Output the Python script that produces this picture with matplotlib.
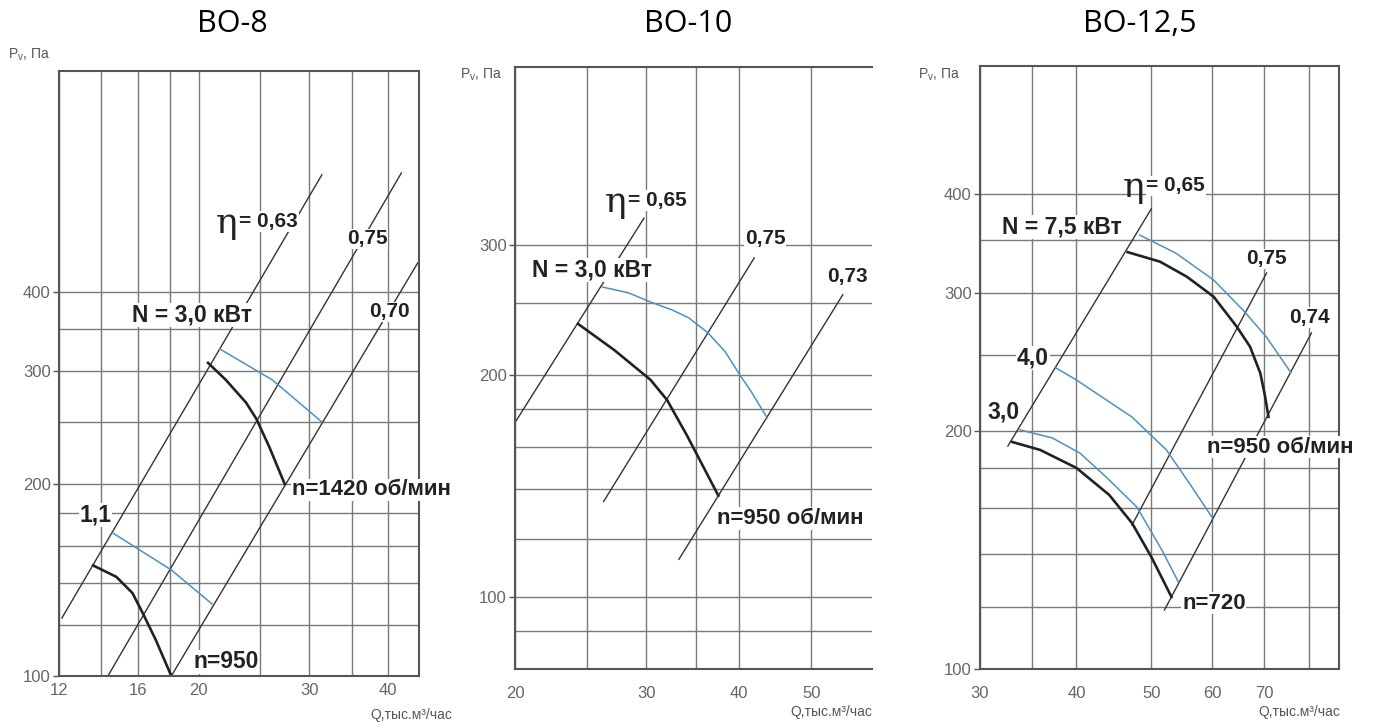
import numpy as np
import matplotlib
matplotlib.use('Agg')
import matplotlib.pyplot as plt
from matplotlib.ticker import FixedLocator, NullFormatter, FixedFormatter

plt.rcParams['font.family'] = ['Liberation Sans', 'DejaVu Sans']

# BO-8
bo8_eta063_q = [12.13, 31.4]
bo8_eta063_p = [123.3, 610]
bo8_eta075_q = [14.35, 42.0]
bo8_eta075_p = [100, 614]
bo8_eta070_q = [18.1, 44.6]
bo8_eta070_p = [100, 444]
bo8_n1420_black_q = [20.7, 22.1, 23.8, 24.7, 25.9, 27.4]
bo8_n1420_black_p = [309.5, 291, 268, 253, 228.6, 200]
bo8_n1420_blue_q = [21.6, 26.2, 31.4]
bo8_n1420_blue_p = [325.5, 291, 250]
bo8_n950_black_q = [13.6, 14.8, 15.7, 16.3, 17.1, 18.1]
bo8_n950_black_p = [149, 143, 134.9, 125.5, 113.9, 100]
bo8_n950_blue_q = [14.6, 18.1, 21.0]
bo8_n950_blue_p = [167.6, 146.6, 129.7]

# BO-10
bo10_eta065_q = [20, 29.8]
bo10_eta065_p = [172.4, 326]
bo10_eta075_q = [26.3, 41.9]
bo10_eta075_p = [134.8, 288]
bo10_eta073_q = [33.2, 55.1]
bo10_eta073_p = [112.6, 256.8]
bo10_black_q = [24.3, 27.2, 30.4, 32.0, 34.1, 37.5]
bo10_black_p = [234.5, 216, 197, 185, 165, 137.3]
bo10_blue_q = [26.2, 28.4, 30.4, 32.5, 34.2, 36.3, 38.3, 39.9, 41.6, 43.6]
bo10_blue_p = [263, 258.3, 251, 244.9, 239, 228.1, 215, 201.4, 189.2, 175]

# BO-12,5
bo12_eta065_q = [32.6, 50.0]
bo12_eta065_p = [191.7, 383]
bo12_eta075_q = [47.2, 70.5]
bo12_eta075_p = [152.2, 317.6]
bo12_eta074_q = [52.0, 80.6]
bo12_eta074_p = [118.8, 266.6]
bo12_n950_black_q = [46.6, 51.3, 55.6, 60.2, 64.5, 67.1, 69.2, 70.2, 70.9]
bo12_n950_black_p = [337.5, 328.3, 314.1, 296.4, 271.6, 256.2, 237.1, 221.4, 208.7]
bo12_n950_blue_q = [48.3, 53.8, 60.2, 65.7, 70.4, 75.8]
bo12_n950_blue_p = [354.8, 336.5, 311.2, 285.1, 263.8, 237.5]
bo12_n720_blue4_q = [37.6, 40.0, 47.2, 52.3, 56.0, 60.0]
bo12_n720_blue4_p = [240.8, 232.4, 208.6, 189.5, 172, 155.4]
bo12_n720_black_q = [33.0, 35.9, 40.0, 44.1, 47.2, 50.0, 53.1]
bo12_n720_black_p = [194, 189.5, 179.8, 166.2, 153.1, 138.7, 123.4]
bo12_n720_blue3_q = [33.8, 37.2, 40.4, 43.7, 47.9, 51.6, 54.2]
bo12_n720_blue3_p = [200.9, 196.3, 187.8, 175.1, 160.4, 141.5, 128.9]

W, H = 1376, 726
fig = plt.figure(figsize=(W / 100, H / 100), dpi=100)

BLUE = '#4f8fc0'
GRID = '#7a7a7a'
SPINE = '#555555'
TXT = '#222222'


def make_axes(px_left, px_right, px_top, px_bottom, xlim, ylim,
              xmaj, xmin, ymaj, ymin, xpad, right_spine=True):
    ax = fig.add_axes([px_left / W, 1 - px_bottom / H,
                       (px_right - px_left) / W, (px_bottom - px_top) / H])
    ax.set_xscale('log')
    ax.set_yscale('log')
    ax.set_xlim(*xlim)
    ax.set_ylim(*ylim)
    ax.xaxis.set_major_locator(FixedLocator(xmaj))
    ax.xaxis.set_major_formatter(FixedFormatter([str(v) for v in xmaj]))
    ax.xaxis.set_minor_locator(FixedLocator(xmin))
    ax.xaxis.set_minor_formatter(NullFormatter())
    ax.yaxis.set_major_locator(FixedLocator(ymaj))
    ax.yaxis.set_major_formatter(FixedFormatter([str(v) for v in ymaj]))
    ax.yaxis.set_minor_locator(FixedLocator(ymin))
    ax.yaxis.set_minor_formatter(NullFormatter())
    ax.grid(which='both', color=GRID, lw=1.0)
    ax.tick_params(axis='x', which='both', length=0, pad=xpad,
                   labelsize=12, labelcolor='#666666')
    ax.tick_params(axis='y', which='major', length=4, width=1, color=SPINE,
                   pad=2, labelsize=12, labelcolor='#666666')
    ax.tick_params(axis='y', which='minor', length=0)
    for s in ax.spines.values():
        s.set_color(SPINE)
        s.set_linewidth(1.5)
    if not right_spine:
        ax.spines['right'].set_visible(False)
    ax.set_axisbelow(True)
    return ax


def label(ax, q, p, s, size=16):
    ax.text(q, p, s, fontsize=size, fontweight='bold', color=TXT,
            ha='left', va='center', zorder=5,
            bbox=dict(facecolor='white', edgecolor='none', pad=0.5))


def eta_label(ax, q, p, s):
    ax.text(q, p, 'η', fontsize=26, family='DejaVu Serif', color=TXT,
            ha='left', va='center', zorder=5)
    ax.annotate(s, xy=(q, p), xytext=(17, 1), textcoords='offset points',
                fontsize=15, fontweight='bold', color=TXT, ha='left',
                va='center', zorder=5,
                bbox=dict(facecolor='white', edgecolor='none', pad=0.5))


def ylabel_fig(x, y):
    fig.text(x / W, 1 - y / H, r'P$_\mathregular{v}$, Па', fontsize=10,
             color='#555555', ha='left', va='center')


def xlabel_fig(x, y):
    fig.text(x / W, 1 - y / H, 'Q,тыс.м³/час', fontsize=10,
             color='#555555', ha='right', va='center')


# ---- BO-8 ----
ax1 = make_axes(59, 419, 71, 676, (12, 44.8), (100, 887),
                [12, 16, 20, 30, 40], [14, 18, 25, 35],
                [100, 200, 300, 400], [120, 140, 160, 180, 250, 350], 5)
for q, p in [(bo8_eta063_q, bo8_eta063_p), (bo8_eta075_q, bo8_eta075_p),
             (bo8_eta070_q, bo8_eta070_p)]:
    ax1.plot(q, p, color='#333333', lw=1.0)
ax1.plot(bo8_n1420_blue_q, bo8_n1420_blue_p, color=BLUE, lw=1.1)
ax1.plot(bo8_n950_blue_q, bo8_n950_blue_p, color=BLUE, lw=1.1)
ax1.plot(bo8_n1420_black_q, bo8_n1420_black_p, color='#222222', lw=1.9)
ax1.plot(bo8_n950_black_q, bo8_n950_black_p, color='#222222', lw=1.9)
eta_label(ax1, 21.3, 513, '= 0,63')
label(ax1, 34.4, 484, '0,75', 15)
label(ax1, 37.3, 372, '0,70', 15)
label(ax1, 15.7, 368, 'N = 3,0 кВт', 16.5)
label(ax1, 12.94, 178.8, '1,1', 16.5)
label(ax1, 28.1, 195.7, 'n=1420 об/мин', 16)
label(ax1, 19.6, 105.2, 'n=950', 16.5)
ylabel_fig(8, 55)
xlabel_fig(452, 715)

# ---- BO-10 ----
ax2 = make_axes(515, 872, 67, 669, (20, 60.3), (80, 522),
                [20, 30, 40, 50], [25, 35],
                [100, 200, 300], [90, 120, 140, 160, 180, 250], 12,
                right_spine=False)
for q, p in [(bo10_eta065_q, bo10_eta065_p), (bo10_eta075_q, bo10_eta075_p),
             (bo10_eta073_q, bo10_eta073_p)]:
    ax2.plot(q, p, color='#333333', lw=1.0)
ax2.plot(bo10_blue_q, bo10_blue_p, color=BLUE, lw=1.1)
ax2.plot(bo10_black_q, bo10_black_p, color='#222222', lw=1.9)
eta_label(ax2, 26.4, 343, '= 0,65')
label(ax2, 40.7, 305.6, '0,75', 15)
label(ax2, 52.5, 271.6, '0,73', 15)
label(ax2, 21.1, 277.4, 'N = 3,0 кВт', 16.5)
label(ax2, 37.3, 127.9, 'n=950 об/мин', 16)
ylabel_fig(460, 75)
xlabel_fig(872, 712)

# ---- BO-12,5 ----
ax3 = make_axes(980, 1339, 66, 669, (30, 87.5), (100, 581),
                [30, 40, 50, 60, 70], [35, 80],
                [100, 200, 300, 400], [120, 140, 160, 180, 250, 350], 12)
for q, p in [(bo12_eta065_q, bo12_eta065_p), (bo12_eta075_q, bo12_eta075_p),
             (bo12_eta074_q, bo12_eta074_p)]:
    ax3.plot(q, p, color='#333333', lw=1.0)
ax3.plot(bo12_n950_blue_q, bo12_n950_blue_p, color=BLUE, lw=1.1)
ax3.plot(bo12_n720_blue4_q, bo12_n720_blue4_p, color=BLUE, lw=1.1)
ax3.plot(bo12_n720_blue3_q, bo12_n720_blue3_p, color=BLUE, lw=1.1)
ax3.plot(bo12_n950_black_q, bo12_n950_black_p, color='#222222', lw=1.9)
ax3.plot(bo12_n720_black_q, bo12_n720_black_p, color='#222222', lw=1.9)
eta_label(ax3, 45.9, 408, '= 0,65')
label(ax3, 31.99, 363, 'N = 7,5 кВт', 16.5)
label(ax3, 66.4, 331, '0,75', 15)
label(ax3, 75.4, 279, '0,74', 15)
label(ax3, 33.5, 247.8, '4,0', 16.5)
label(ax3, 30.7, 211.7, '3,0', 16.5)
label(ax3, 59.1, 191.1, 'n=950 об/мин', 16)
label(ax3, 54.8, 121.2, 'n=720', 16)
ylabel_fig(918, 75)
xlabel_fig(1340, 712)

# titles
for x, t in [(232, 'BO-8'), (688, 'BO-10'), (1140, 'BO-12,5')]:
    fig.text(x / W, 1 - 24 / H, t, fontsize=22, family='Open Sans',
             ha='center', va='center', color='black')

fig.savefig('out.png', dpi=100)
